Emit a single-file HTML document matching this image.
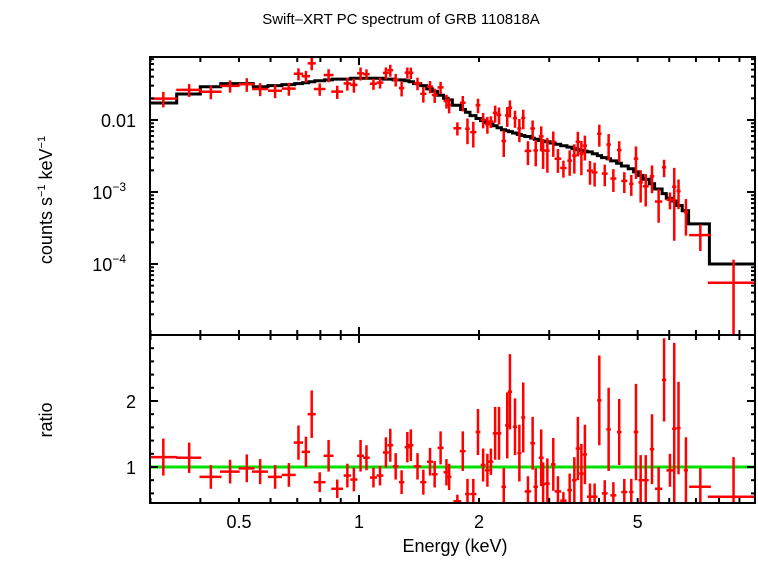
<!DOCTYPE html>
<html><head><meta charset="utf-8"><style>
html,body{margin:0;padding:0;background:#fff;}
svg text{font-family:"Liberation Sans",sans-serif;fill:#000;}
</style></head><body>
<svg id="chart" width="758" height="556" viewBox="0 0 758 556" xmlns="http://www.w3.org/2000/svg">
<text x="401" y="24" font-size="15" text-anchor="middle">Swift–XRT PC spectrum of GRB 110818A</text>
<text transform="translate(52,200) rotate(-90)" font-size="18" text-anchor="middle">counts s<tspan font-size="11" dy="-7">−1</tspan><tspan dy="7"> keV</tspan><tspan font-size="11" dy="-7">−1</tspan></text>
<text transform="translate(52,420) rotate(-90)" font-size="18" text-anchor="middle">ratio</text>
<text x="455" y="552" font-size="18" text-anchor="middle">Energy (keV)</text>
<g id="g-top"></g>
<g id="g-bot"></g>
<g id="g-axes"></g>
</svg>
<script>
const energies=[0.323,0.375,0.425,0.475,0.523,0.565,0.616,0.667,0.705,0.736,0.761,0.797,0.839,0.882,0.935,0.971,1.009,1.044,1.087,1.129,1.168,1.198,1.236,1.279,1.322,1.349,1.402,1.450,1.507,1.548,1.602,1.657,1.683,1.765,1.821,1.871,1.935,1.988,2.048,2.099,2.142,2.195,2.245,2.307,2.354,2.391,2.462,2.525,2.582,2.653,2.726,2.775,2.864,2.896,2.968,3.071,3.155,3.256,3.376,3.468,3.539,3.612,3.686,3.796,3.899,4.006,4.134,4.228,4.345,4.494,4.628,4.819,4.951,5.087,5.238,5.431,5.643,5.824,6.024,6.175,6.330,6.607,7.180,8.698];
const halfWidths=[0.027,0.027,0.027,0.027,0.024,0.026,0.025,0.027,0.019,0.018,0.018,0.027,0.024,0.03,0.02,0.02,0.02,0.02,0.022,0.022,0.02,0.02,0.02,0.02,0.02,0.02,0.03,0.026,0.026,0.026,0.028,0.028,0.022,0.04,0.03,0.025,0.035,0.027,0.028,0.028,0.03,0.03,0.03,0.03,0.03,0.03,0.03,0.03,0.03,0.05,0.037,0.037,0.04,0.04,0.04,0.04,0.06,0.06,0.045,0.045,0.045,0.045,0.045,0.065,0.065,0.05,0.07,0.055,0.075,0.06,0.08,0.06,0.065,0.065,0.09,0.07,0.12,0.07,0.12,0.075,0.075,0.08,0.45,1.2];
const ratios=[1.15,1.14,0.85,0.93,0.98,0.93,0.85,0.88,1.37,1.23,1.80,0.77,1.17,0.67,0.87,0.81,1.17,1.14,0.84,0.87,1.22,1.33,1.01,0.77,1.30,1.33,1.01,0.77,1.08,0.89,1.29,0.92,0.85,0.48,1.24,0.59,0.59,1.53,1.03,0.95,1.08,1.51,1.51,0.70,1.63,2.14,1.61,1.21,1.75,0.63,1.36,0.70,1.14,0.74,0.75,1.04,0.63,0.49,0.65,0.80,1.28,0.90,1.19,0.55,0.55,2.01,0.60,1.57,0.57,1.53,0.62,0.62,1.53,0.80,0.80,1.27,0.67,2.32,0.95,1.58,1.59,0.95,0.70,0.55];
const ratioErrors=[0.28,0.23,0.18,0.18,0.21,0.19,0.18,0.18,0.26,0.23,0.36,0.15,0.24,0.14,0.18,0.18,0.24,0.19,0.15,0.15,0.23,0.25,0.2,0.18,0.23,0.24,0.2,0.19,0.21,0.2,0.25,0.2,0.2,0.1,0.3,0.23,0.23,0.35,0.25,0.25,0.2,0.4,0.4,0.28,0.5,0.57,0.43,0.43,0.53,0.23,0.4,0.28,0.43,0.33,0.38,0.4,0.23,0.13,0.25,0.35,0.48,0.45,0.45,0.2,0.2,0.68,0.2,0.63,0.2,0.5,0.2,0.2,0.73,0.38,0.38,0.53,0.33,0.63,0.25,1.3,0.7,0.5,0.28,0.6];
const model=[0.0172,0.023,0.029,0.032,0.032,0.029,0.030,0.031,0.032,0.033,0.034,0.035,0.036,0.037,0.037,0.038,0.038,0.038,0.038,0.038,0.037,0.037,0.036,0.036,0.035,0.034,0.032,0.030,0.027,0.025,0.022,0.020,0.019,0.016,0.014,0.0128,0.0115,0.0105,0.0098,0.0092,0.0088,0.0083,0.0078,0.0073,0.0071,0.0069,0.0066,0.0063,0.0061,0.0059,0.0056,0.0054,0.0052,0.0051,0.0050,0.0048,0.0046,0.0044,0.0042,0.0040,0.0039,0.0038,0.0037,0.0036,0.0034,0.0032,0.0030,0.0029,0.0027,0.0025,0.0023,0.0021,0.0019,0.0017,0.0015,0.0013,0.0011,0.00095,0.00082,0.00075,0.00065,0.00055,0.00036,0.0001];
const xTickLabels=[0.5,1,2,5];
const topTickLabels=[["0.01",-2],["10","-3",-3],["10","-4",-4]];
const ratioTickLabels=[1,2];

const L=150,R=755,T=57,MID=335,B=503;
const X=e=>359+398.7*Math.log10(e);
const YT=v=>120-72*(Math.log10(v)+2);
const YB=r=>467-66*(r-1);
const NS="http://www.w3.org/2000/svg";
function mk(tag,parent,attrs){const el=document.createElementNS(NS,tag);for(const k in attrs)el.setAttribute(k,attrs[k]);parent.appendChild(el);return el;}
const gT=document.getElementById('g-top'),gB=document.getElementById('g-bot'),gA=document.getElementById('g-axes');
const clipT=v=>Math.max(T,Math.min(MID,v)), clipB=v=>Math.max(MID,Math.min(B,v));

let d="";
const n=energies.length;
const edges=[];
for(let i=0;i<=n;i++){
  if(i===0)edges.push(energies[0]-halfWidths[0]);
  else if(i===n)edges.push(Math.min(10,energies[n-1]+halfWidths[n-1]));
  else edges.push(((energies[i-1]+halfWidths[i-1])+(energies[i]-halfWidths[i]))/2);
}
for(let i=0;i<n;i++){
  const y=YT(model[i]);
  d+=(i===0?"M":"L")+Math.max(L,X(edges[i])).toFixed(1)+","+y.toFixed(1)+"L"+Math.min(R,X(edges[i+1])).toFixed(1)+","+y.toFixed(1);
}
const ml=mk('path',gT,{d:d,fill:'none',stroke:'#000','stroke-width':3});



const gl=mk('line',gB,{x1:L,x2:R,y1:YB(1),y2:YB(1),stroke:'#00e000','stroke-width':3});



for(let i=0;i<n;i++){
  const e=energies[i],hw=halfWidths[i];
  const x0=Math.max(L,X(e-hw)),x1=Math.min(R,X(e+hw)),xc=X(e);
  const v=model[i]*ratios[i],ev=model[i]*ratioErrors[i];
  const g1=mk('g',gT,{stroke:'#f00','stroke-width':2.5});
  
  
  const yc=YT(v);
  if(yc>=T&&yc<=MID)mk('line',g1,{x1:x0,x2:x1,y1:yc,y2:yc});
  const ylo=v-ev>0?YT(v-ev):MID;
  mk('line',g1,{x1:xc,x2:xc,y1:clipT(YT(v+ev)),y2:clipT(ylo)});
  const g2=mk('g',gB,{stroke:'#f00','stroke-width':2.5});
  
  
  const yr=YB(ratios[i]);
  if(yr>=MID&&yr<=B)mk('line',g2,{x1:x0,x2:x1,y1:yr,y2:yr});
  mk('line',g2,{x1:xc,x2:xc,y1:clipB(YB(ratios[i]+ratioErrors[i])),y2:clipB(YB(ratios[i]-ratioErrors[i]))});
}

mk('rect',gA,{x:L,y:T,width:R-L,height:MID-T,fill:'none',stroke:'#000','stroke-width':2});
mk('rect',gA,{x:L,y:MID,width:R-L,height:B-MID,fill:'none',stroke:'#000','stroke-width':2});
const xt=[];
for(let k=3;k<=9;k++)xt.push(k/10);
for(let k=1;k<=9;k++)xt.push(k);
xt.push(10);
xt.forEach(e=>{
  const x=X(e);if(x<L||x>R)return;
  const len=(e===1||e===10)?8:5;
  [T,MID,B].forEach(y=>{
    if(y!==T)mk('line',gA,{x1:x,x2:x,y1:y,y2:y-len,stroke:'#000','stroke-width':2});
    if(y!==B)mk('line',gA,{x1:x,x2:x,y1:y,y2:y+len,stroke:'#000','stroke-width':2});
  });
});
xTickLabels.forEach(e=>{
  const t=mk('text',gA,{x:X(e),y:528,'font-size':18,'text-anchor':'middle'});t.textContent=String(e);
  
  
});
for(let p=-5;p<=-1;p++)for(let m=1;m<=9;m++){
  const v=m*Math.pow(10,p),y=YT(v);if(y<T||y>MID)continue;
  const len=m===1?8:4;
  mk('line',gA,{x1:L,x2:L+len,y1:y,y2:y,stroke:'#000','stroke-width':2});
  mk('line',gA,{x1:R,x2:R-len,y1:y,y2:y,stroke:'#000','stroke-width':2});
}
topTickLabels.forEach(t=>{
  const y=YT(Math.pow(10,t[t.length-1]))+7;
  const el=mk('text',gA,{x:t.length===2?136:126,y:y,'font-size':18,'text-anchor':'end'});
  
  
  if(t.length===2)el.textContent=t[0];
  else{el.textContent=t[0];const s=mk('tspan',el,{'font-size':12,dy:-8});s.textContent="−"+t[1].slice(1);}
});
for(let r=0.6;r<=2.9;r+=0.2){
  const rr=Math.round(r*10)/10,y=YB(rr);const len=(rr===1||rr===2)?8:4;
  mk('line',gA,{x1:L,x2:L+len,y1:y,y2:y,stroke:'#000','stroke-width':2});
  mk('line',gA,{x1:R,x2:R-len,y1:y,y2:y,stroke:'#000','stroke-width':2});
}
ratioTickLabels.forEach(r=>{
  const el=mk('text',gA,{x:136,y:YB(r)+7,'font-size':18,'text-anchor':'end'});el.textContent=String(r);
  
  
});
</script>
</body></html>
